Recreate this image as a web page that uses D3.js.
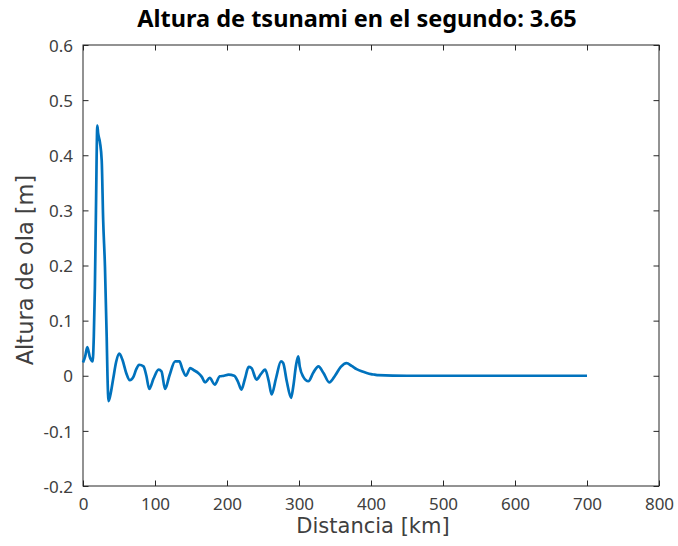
<!DOCTYPE html>
<html><head><meta charset="utf-8">
<script src="https://cdn.jsdelivr.net/npm/d3@7"></script>
<style>
html,body{margin:0;padding:0;background:#fff;}
svg{display:block;font-family:"Noto Sans","Open Sans",sans-serif;}
</style></head>
<body>
<svg id="chart" width="678" height="546"></svg>
<script>
const titleText = "Altura de tsunami en el segundo: 3.65";
const xLabel = "Distancia [km]";
const yLabel = "Altura de ola [m]";
const xTicks = [0,100,200,300,400,500,600,700,800];
const yTicks = [-0.2,-0.1,0,0.1,0.2,0.3,0.4,0.5,0.6];
const yTickLabels = ["-0.2","-0.1","0","0.1","0.2","0.3","0.4","0.5","0.6"];
const distKm = [0,3,6,9.7,13.4,15,16.5,18,19.9,21,23.6,26,28,30.5,32.9,34,35.5,38,42,46,50.5,55,60,65,70,74,78,84,88,92,98,105,109,114,120,128,134,138,143,149,154,160,165,169.5,176,183,190,196,202,210,215,220,225,230,234,241,247,253,258,262,268,275,278,283,289,292,296,299,301,306,313,320,327,334,342,350,358,366,373,380,387,394,400,405,410,450,500,550,600,650,700];
const heightM = [0.024,0.035,0.052,0.033,0.026,0.071,0.16,0.30,0.454,0.44,0.423,0.39,0.283,0.198,0.071,0.0,-0.046,-0.035,-0.005,0.025,0.040,0.028,0.005,-0.008,-0.002,0.012,0.020,0.017,0.0,-0.024,-0.005,0.011,0.008,-0.024,0.0,0.026,0.026,0.012,0.0,0.014,0.010,0.005,-0.002,-0.012,-0.004,-0.016,-0.001,0.0,0.002,0.0,-0.010,-0.025,-0.005,0.016,0.014,-0.007,0.003,0.011,-0.010,-0.034,-0.005,0.026,0.023,-0.010,-0.040,-0.020,0.020,0.035,0.017,-0.002,-0.010,0.006,0.017,0.005,-0.012,0.0,0.016,0.023,0.018,0.012,0.008,0.005,0.003,0.002,0.001,0,0,0,0,0,0];

const svg = d3.select("#chart");
const L = 83, R = 659, T = 45, B = 486;
const axisColor = "#262626";
const x = d3.scaleLinear().domain([0,800]).range([L,R]);
const y = d3.scaleLinear().domain([-0.2,0.6]).range([B,T]);

svg.append("rect").attr("x",L).attr("y",T).attr("width",R-L).attr("height",B-T)
  .attr("fill","none").attr("stroke",axisColor).attr("stroke-width",1);

const tl = 5.5;
const xb = svg.append("g").attr("transform",`translate(0,${B})`)
  .call(d3.axisBottom(x).tickValues(xTicks).tickSizeInner(-tl).tickSizeOuter(0).tickPadding(10).tickFormat(d3.format("d")));
const xt = svg.append("g").attr("transform",`translate(0,${T})`)
  .call(d3.axisTop(x).tickValues(xTicks).tickSizeInner(-tl).tickSizeOuter(0).tickFormat(""));
const yl = svg.append("g").attr("transform",`translate(${L},0)`)
  .call(d3.axisLeft(y).tickValues(yTicks).tickSizeInner(-tl).tickSizeOuter(0).tickPadding(10).tickFormat((d,i)=>yTickLabels[i]));
const yr = svg.append("g").attr("transform",`translate(${R},0)`)
  .call(d3.axisRight(y).tickValues(yTicks).tickSizeInner(-tl).tickSizeOuter(0).tickFormat(""));
[xb,xt,yl,yr].forEach(g=>{
  g.select(".domain").remove();
  g.selectAll("line").attr("stroke",axisColor).attr("stroke-width",1);
  g.selectAll("text").attr("fill","#404040").style("font-size","17px").style("font-family","'Noto Sans','Open Sans',sans-serif");
});
xb.selectAll("text").attr("dy","0").attr("y",23.5);
yl.selectAll("text").attr("dy","0.36em");

const line = d3.line().x((d,i)=>x(distKm[i])).y(d=>y(d)).curve(d3.curveMonotoneX);
svg.append("path").datum(heightM).attr("d",line).attr("fill","none")
  .attr("stroke","#0072BD").attr("stroke-width",2.7).attr("stroke-linejoin","round");

svg.append("text").attr("x",357).attr("y",27).attr("text-anchor","middle")
  .style("font-size","23.5px").style("font-weight","bold").attr("fill","#000").text(titleText);
svg.append("text").attr("x",373).attr("y",533).attr("text-anchor","middle")
  .style("font-family","'DejaVu Sans',sans-serif")
  .style("font-size","21px").attr("fill","#404040").text(xLabel);
svg.append("text").attr("transform",`translate(33,270) rotate(-90)`).attr("text-anchor","middle")
  .style("font-family","'DejaVu Sans',sans-serif")
  .style("font-size","22.5px").attr("fill","#404040").text(yLabel);
</script>
</body></html>
